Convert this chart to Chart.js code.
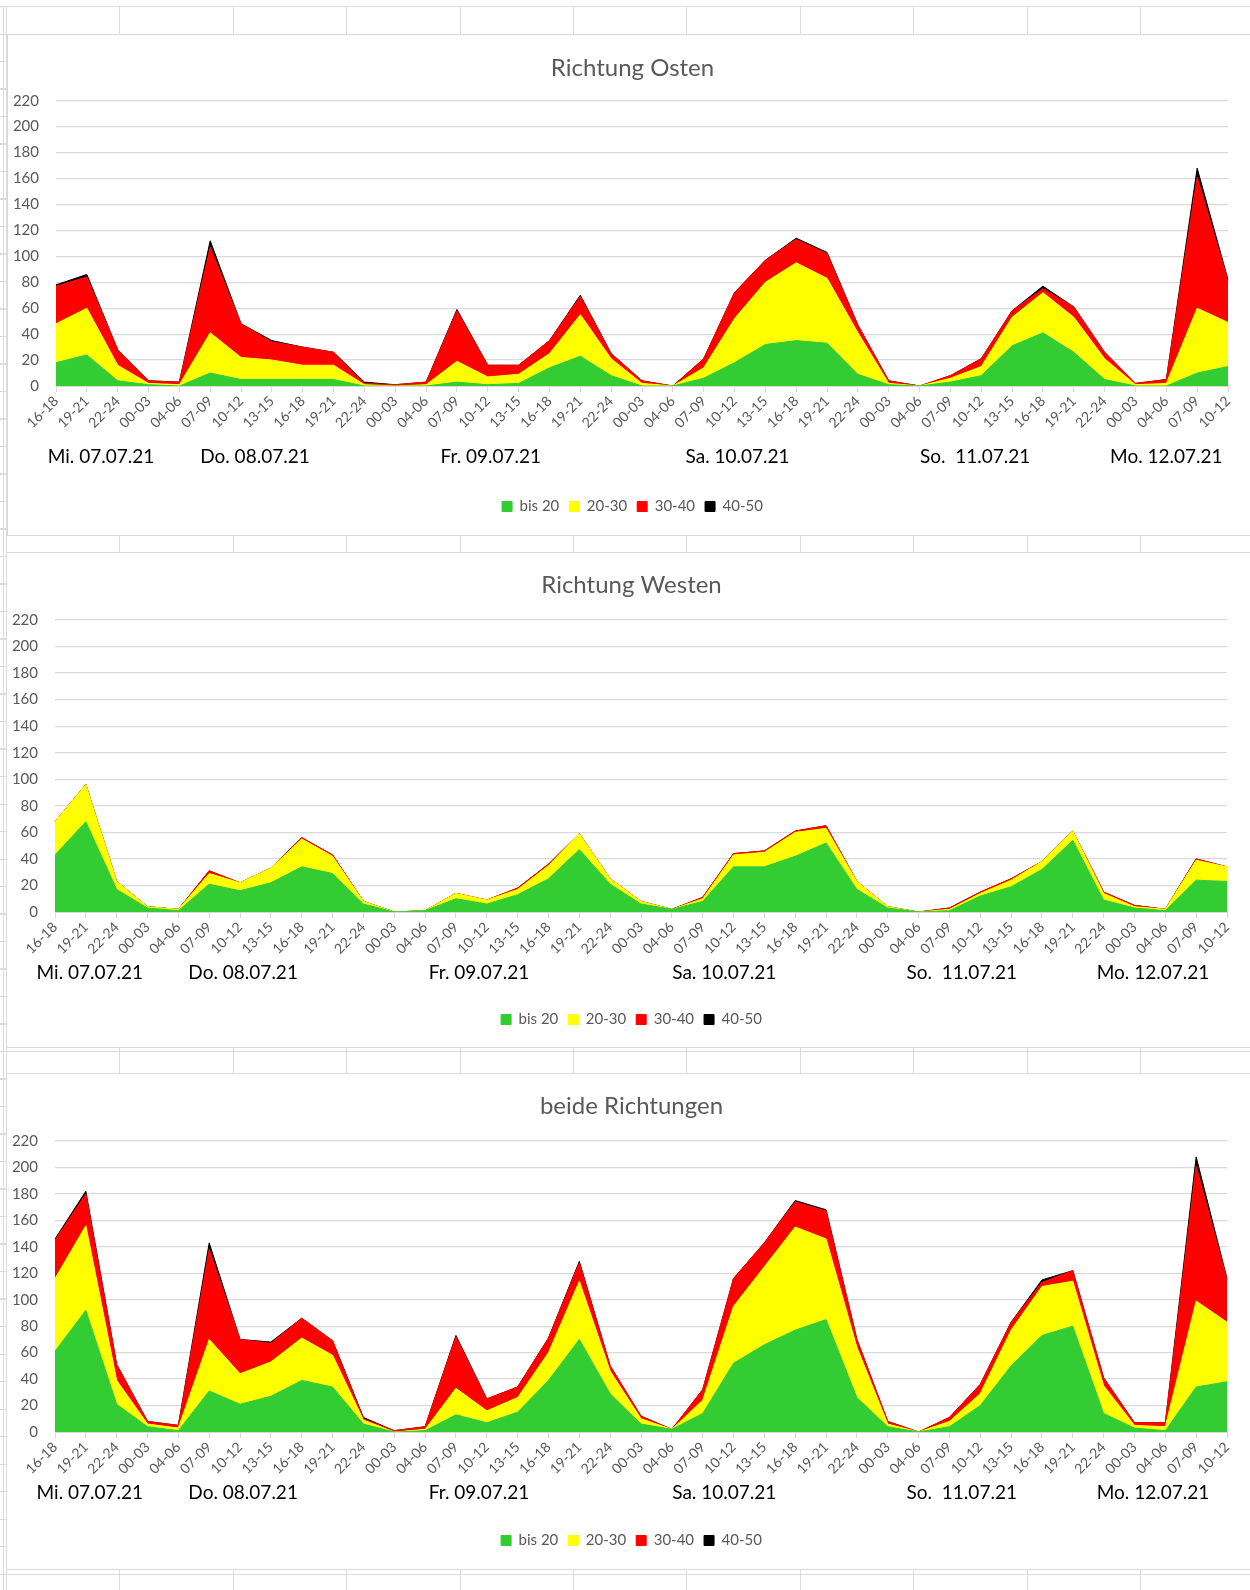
<!DOCTYPE html>
<html>
<head>
<meta charset="utf-8">
<script src="https://cdn.jsdelivr.net/npm/chart.js@4.4.1/dist/chart.umd.min.js"></script>
<style>
  html, body { margin: 0; padding: 0; }
  body { width: 1250px; height: 1590px; overflow: hidden; position: relative; background: #fff; }
  .sheet {
    position: absolute; left: 0; top: 6px; width: 1250px; height: 1584px;
    background-image:
      repeating-linear-gradient(to right, #dcdcdc 0 1px, transparent 1px 113.4px),
      repeating-linear-gradient(to bottom, #dcdcdc 0 1px, transparent 1px 27.5px);
    background-position: 6px 0, 0 0;
  }
  .box { position: absolute; background: #fff; border: 1px solid #d9d9d9; }
  canvas { display: block; }
</style>
</head>
<body>
<div class="sheet"></div>
<div class="box" style="left:7px; top:34px;"><canvas id="ost" width="1249" height="500"></canvas></div>
<div class="box" style="left:6px; top:552px;"><canvas id="west" width="1249" height="494"></canvas></div>
<div class="box" style="left:6px; top:1073px;"><canvas id="beide" width="1249" height="495"></canvas></div>
<script>
// time slots (x axis)
const slots = ['16-18','19-21','22-24',
  '00-03','04-06','07-09','10-12','13-15','16-18','19-21','22-24',
  '00-03','04-06','07-09','10-12','13-15','16-18','19-21','22-24',
  '00-03','04-06','07-09','10-12','13-15','16-18','19-21','22-24',
  '00-03','04-06','07-09','10-12','13-15','16-18','19-21','22-24',
  '00-03','04-06','07-09','10-12'];
const days = ['Mi. 07.07.21', 'Do. 08.07.21', 'Fr. 09.07.21', 'Sa. 10.07.21', 'So.  11.07.21', 'Mo. 12.07.21'];
const seriesNames = ['bis 20', '20-30', '30-40', '40-50'];
const seriesColors = ['#33cc33', '#ffff00', '#ff0000', '#000000'];
const yTicks = [0, 20, 40, 60, 80, 100, 120, 140, 160, 180, 200, 220];

// Richtung Osten
const ostBis20 = [18,24,4,1,0,10,5,5,5,5,0,0,0,3,1,2,14,23,8,0,0,6,18,32,35,33,9,1,0,3,8,31,41,26,5,0,0,10,15];
const ost2030  = [30,36,12,1,1,31,17,15,11,11,1,0,1,16,6,7,11,32,13,2,0,8,34,48,60,50,32,1,0,3,7,22,31,27,16,1,2,50,34];
const ost3040  = [29,24,12,2,2,66,26,14,14,10,1,1,2,39,9,7,10,14,4,2,0,7,20,17,18,19,6,2,0,2,6,5,3,8,5,1,3,101,32];
const ost4050  = [1,2,0,0,0,5,0,1,0,0,1,0,0,1,0,0,0,1,0,0,0,0,0,0,1,1,0,0,0,0,0,0,2,0,0,0,0,7,1];

// Richtung Westen
const westBis20 = [43,68,17,3,1,21,16,22,34,29,6,0,1,10,6,13,25,47,21,6,2,8,34,34,42,52,17,3,0,1,12,19,32,54,9,3,1,24,23];
const west2030  = [25,28,6,1,1,8,6,11,21,13,2,0,0,4,3,4,10,12,4,2,0,2,9,11,18,11,6,1,0,1,2,5,6,7,5,1,1,15,11];
const west3040  = [0,0,0,0,0,2,0,0,1,1,0,0,0,0,0,1,1,0,0,0,0,1,1,1,1,2,0,0,0,1,1,1,0,0,1,1,0,1,0];
const west4050  = [0,0,0,0,0,0,0,0,0,0,0,0,0,0,0,0,0,0,0,0,0,0,0,0,0,0,0,0,0,0,0,0,0,0,0,0,0,0,0];

// beide Richtungen
const beideBis20 = [61,92,21,4,1,31,21,27,39,34,6,0,1,13,7,15,39,70,29,6,2,14,52,66,77,85,26,4,0,4,20,50,73,80,14,3,1,34,38];
const beide2030  = [55,64,18,2,2,39,23,26,32,24,3,0,1,20,9,11,21,44,17,4,0,10,43,59,78,61,38,2,0,4,9,27,37,34,21,2,3,65,45];
const beide3040  = [29,24,12,2,2,68,26,14,15,11,1,1,2,39,9,8,11,14,4,2,0,8,21,18,19,21,6,2,0,3,7,6,3,8,6,2,3,102,32];
const beide4050  = [1,2,0,0,0,5,0,1,0,0,1,0,0,1,0,0,0,1,0,0,0,0,0,0,1,1,0,0,0,0,0,0,2,0,0,0,0,7,1];

Chart.defaults.font.family = 'Lato, "Open Sans", sans-serif';
Chart.defaults.color = '#595959';

// day captions under the slot labels
const dayLabels = {
  id: 'dayLabels',
  afterDraw(chart, args, opts) {
    const {ctx, scales: {x}, chartArea} = chart;
    ctx.save();
    ctx.font = '19px Lato, "Open Sans", sans-serif';
    ctx.fillStyle = '#000';
    ctx.textAlign = 'center';
    ctx.textBaseline = 'middle';
    days.forEach((d, i) => {
      ctx.fillText(d, x.getPixelForValue(opts.at[i]), chartArea.bottom + opts.dy);
    });
    ctx.restore();
  }
};

function makeChart(id, title, values, g) {
  const datasets = values.map((v, i) => ({
    label: seriesNames[i],
    data: v,
    backgroundColor: seriesColors[i],
    borderColor: seriesColors[i],
    borderWidth: 1,
    pointRadius: 0,
    tension: 0,
    fill: i === 0 ? 'origin' : '-1'
  }));
  const H = document.getElementById(id).height;
  const legendBottom = H - 17 - g.legendY;
  new Chart(document.getElementById(id), {
    type: 'line',
    data: {labels: slots, datasets},
    plugins: [dayLabels],
    options: {
      responsive: false,
      animation: false,
      devicePixelRatio: 1,
      layout: {padding: {left: 0, right: 0, top: 0, bottom: legendBottom}},
      interaction: {mode: null},
      plugins: {
        tooltip: {enabled: false},
        title: {
          display: true,
          text: title,
          color: '#595959',
          font: {size: 24, weight: 'normal'},
          padding: {top: g.titleY - 14.4, bottom: g.plotTop - g.titleY - 14.4}
        },
        legend: {
          position: 'bottom',
          labels: {boxWidth: 10, boxHeight: 10, padding: 10, color: '#595959', font: {size: 15}}
        },
        dayLabels: {at: g.dayAt, dy: g.dayDy}
      },
      scales: {
        x: {
          grid: {drawOnChartArea: false, drawTicks: true, tickLength: 6, color: '#d9d9d9'},
          border: {color: '#d9d9d9'},
          ticks: {autoSkip: false, minRotation: 45, maxRotation: 45, padding: 1, color: '#595959', font: {size: 14}},
          afterFit: s => { s.height = H - legendBottom - 35 - g.plotBottom; }
        },
        y: {
          stacked: true,
          min: 0, max: 220,
          afterBuildTicks: s => { s.ticks = yTicks.map(v => ({value: v})); },
          grid: {color: '#d9d9d9', lineWidth: 1.2, drawTicks: false},
          border: {display: false},
          ticks: {padding: 17, color: '#595959', font: {size: 15}},
          afterFit: s => { s.width = 48; }
        },
        yRight: {
          position: 'right',
          grid: {display: false},
          border: {display: false},
          ticks: {display: false},
          afterFit: s => { s.width = 29; }
        }
      }
    }
  });
}

makeChart('ost', 'Richtung Osten', [ostBis20, ost2030, ost3040, ost4050],
  {titleY: 33, plotTop: 65.7, plotBottom: 351, legendY: 472, dayDy: 71, dayAt: [1.46, 6.45, 14.1, 22.1, 29.8, 36.0]});
makeChart('west', 'Richtung Westen', [westBis20, west2030, west3040, west4050],
  {titleY: 32, plotTop: 67, plotBottom: 359, legendY: 467, dayDy: 61, dayAt: [1.13, 6.1, 13.75, 21.7, 29.4, 35.6]});
makeChart('beide', 'beide Richtungen', [beideBis20, beide2030, beide3040, beide4050],
  {titleY: 32, plotTop: 67, plotBottom: 358, legendY: 467, dayDy: 61, dayAt: [1.13, 6.1, 13.75, 21.7, 29.4, 35.6]});
</script>
</body>
</html>
